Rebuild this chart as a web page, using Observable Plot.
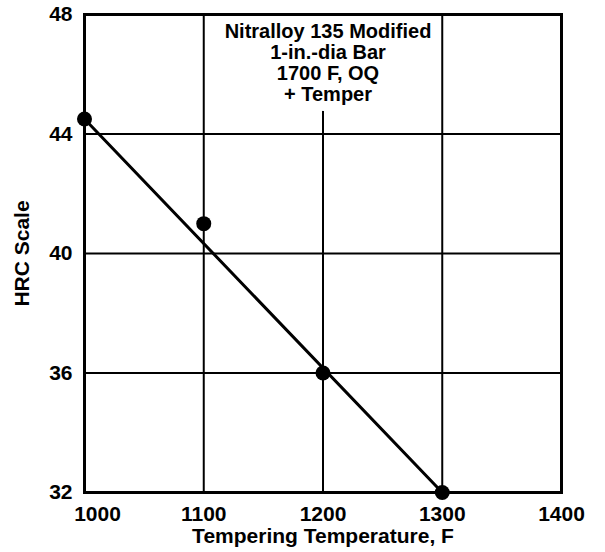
<!DOCTYPE html>
<html>
<head>
<meta charset="utf-8">
<script src="https://cdn.jsdelivr.net/npm/d3@7"></script>
<script src="https://cdn.jsdelivr.net/npm/@observablehq/plot@0.6"></script>
<style>
  body { margin: 0; background: white; }
</style>
</head>
<body>
<div id="chart"></div>
<script>
const temps = [1000, 1100, 1200, 1300];
const hrc = [44.5, 41.0, 36.0, 32.0];
const fitTemps = [1000, 1300];
const fitHrc = [44.5, 32.0];
const xTicks = [1000, 1100, 1200, 1300, 1400];
const yTicks = [32, 36, 40, 44, 48];
const gridX = [1100, 1200, 1300];
const gridY = [36, 40, 44];
const noteLines = ["Nitralloy 135 Modified", "1-in.-dia Bar", "1700 F, OQ", "+ Temper"];
const xTitle = "Tempering Temperature, F";
const yTitle = "HRC Scale";

const points = temps.map((t, i) => ({temp: t, hrc: hrc[i]}));
const fit = fitTemps.map((t, i) => ({temp: t, hrc: fitHrc[i]}));
const note = [{temp: 1200, hrc: 48, text: noteLines.join("\n")}];

const font = "'Liberation Sans', Arial, sans-serif";
const fmt = d => String(d);
const noteStyle = {x: "temp", y: "hrc", text: "text", dx: 5, dy: 9, lineAnchor: "top",
  lineHeight: 1.05, fontSize: 20, fontWeight: "bold"};

const chart = Plot.plot({
  width: 605,
  height: 552,
  marginLeft: 84,
  marginRight: 44,
  marginTop: 14,
  marginBottom: 60,
  x: {domain: [1000, 1400]},
  y: {domain: [32, 48]},
  style: {fontFamily: font, fontWeight: "bold", background: "white", color: "black"},
  marks: [
    Plot.ruleX(gridX, {stroke: "black", strokeWidth: 2}),
    Plot.ruleY(gridY, {stroke: "black", strokeWidth: 2}),
    Plot.text(note, {...noteStyle, fill: "white", stroke: "white", strokeWidth: 20, strokeLinejoin: "round"}),
    Plot.text(note, {...noteStyle, fill: "black"}),
    Plot.frame({stroke: "black", strokeWidth: 3}),
    Plot.line(fit, {x: "temp", y: "hrc", stroke: "black", strokeWidth: 3}),
    Plot.dot(points, {x: "temp", y: "hrc", r: 7.5, fill: "black", stroke: "none"}),
    Plot.axisY(yTicks, {tickSize: 0, tickPadding: 12, fontSize: 21, fontWeight: "bold", tickFormat: fmt,
      label: yTitle, labelArrow: "none", labelAnchor: "center", labelOffset: 70}),
    Plot.axisX([1000], {tickSize: 0, tickPadding: 14, fontSize: 21, fontWeight: "bold", tickFormat: fmt, dx: 13, label: null}),
    Plot.axisX(xTicks.slice(1), {tickSize: 0, tickPadding: 14, fontSize: 21, fontWeight: "bold", tickFormat: fmt,
      label: xTitle, labelArrow: "none", labelAnchor: "center", labelOffset: 50})
  ]
});
chart.querySelectorAll("g[aria-label='y-axis label'] text, g[aria-label='x-axis label'] text").forEach(t => {
  t.setAttribute("font-size", 21);
  t.textContent = t.textContent.replace(/\s*[→←↑↓]\s*/g, "");
});
document.getElementById("chart").appendChild(chart);
</script>
</body>
</html>
